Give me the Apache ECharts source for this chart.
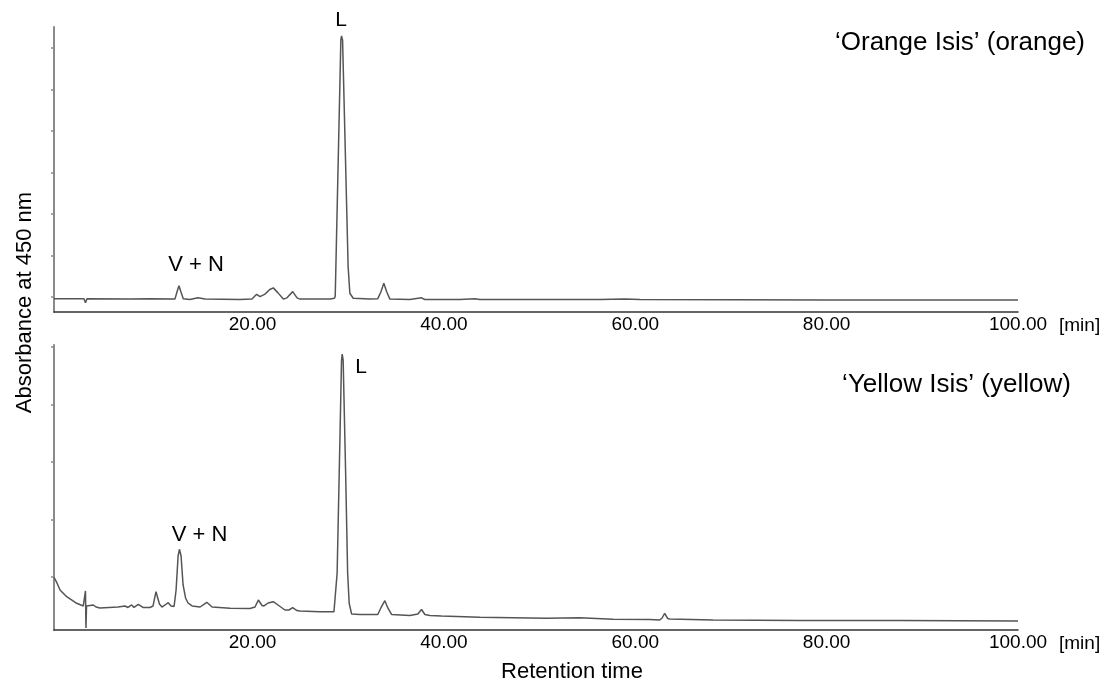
<!DOCTYPE html>
<html>
<head>
<meta charset="utf-8">
<script src="https://cdn.jsdelivr.net/npm/echarts@6.0.0/dist/echarts.min.js"></script>
<style>
html,body{margin:0;padding:0;background:#fff;}
#chart{width:1113px;height:689px;}
</style>
</head>
<body>
<div id="chart"></div>
<script>
// Retention time (min) vs absorbance (arbitrary units, 1 unit = one y tick step)
const xTickValues = [20, 40, 60, 80, 100];
const topYTicks = [0, 1, 2, 3, 4, 5, 6];
const bottomYTicks = [1, 2, 3, 4, 5];

const orangeTrace = [
  [-0.75,-0.04],[0.92,-0.04],[2.38,-0.04],[2.54,-0.14],[2.7,-0.04],[7.19,-0.05],[9.28,-0.04],
  [11.89,-0.05],[12.1,0.12],[12.31,0.27],[12.52,0.12],[12.76,-0.04],[13.46,-0.06],[14.29,-0.02],
  [15.03,-0.05],[18.68,-0.06],[19.94,-0.05],[20.43,0.065],[20.78,0.01],[21.3,0.07],[21.8,0.18],
  [22.17,0.22],[22.66,0.1],[23.22,-0.05],[23.6,-0.02],[24.2,0.13],[24.65,-0.02],[24.96,-0.05],
  [28.1,-0.05],[28.56,-0.03],[28.64,0.02],[28.71,0.73],[29.23,6.19],[29.3,6.29],[29.41,6.19],
  [29.99,0.73],[30.17,0.09],[30.52,-0.03],[32.26,-0.05],[33.09,-0.04],[33.41,0.12],[33.72,0.33],
  [34.03,0.12],[34.35,-0.05],[36.44,-0.06],[37.66,-0.02],[38.0,-0.06],[41.66,-0.06],[43.23,-0.04],
  [43.75,-0.06],[56.28,-0.06],[58.9,-0.05],[60.5,-0.06],[80,-0.07],[100,-0.07]
];

const yellowTrace = [
  [-0.75,0.995],[-0.44,0.896],[-0.12,0.774],[0.58,0.657],[1.62,0.543],[2.31,0.496],[2.49,0.496],
  [2.54,0.757],[2.59,0.113],[2.65,0.496],[2.8,0.487],[3.36,0.513],[3.64,0.478],[4.05,0.461],
  [5.94,0.478],[6.67,0.496],[6.98,0.47],[7.37,0.513],[7.61,0.47],[8.06,0.525],[8.55,0.47],
  [9.28,0.47],[9.6,0.496],[9.91,0.744],[10.27,0.531],[10.53,0.478],[10.85,0.513],[11.19,0.553],
  [11.48,0.496],[11.8,0.487],[12.01,0.774],[12.22,1.365],[12.36,1.482],[12.53,1.365],[12.74,0.861],
  [13.0,0.635],[13.26,0.548],[13.68,0.496],[14.52,0.478],[15.22,0.56],[15.77,0.478],[17.65,0.456],
  [19.74,0.452],[20.26,0.478],[20.61,0.6],[20.99,0.504],[21.2,0.496],[21.62,0.548],[22.17,0.57],
  [22.66,0.513],[23.39,0.426],[23.81,0.426],[24.19,0.466],[24.64,0.417],[24.96,0.409],[27.05,0.397],
  [28.51,0.397],[28.71,0.397],[28.84,1.064],[29.13,3.383],[29.3,4.77],[29.37,4.878],[29.47,4.77],
  [29.73,2.803],[29.94,1.064],[30.1,0.543],[30.35,0.357],[31.21,0.348],[33.09,0.348],[33.41,0.461],
  [33.83,0.588],[34.14,0.461],[34.53,0.348],[36.44,0.33],[37.28,0.357],[37.66,0.435],[38.01,0.348],
  [38.53,0.33],[39.75,0.322],[43.75,0.299],[50.72,0.282],[54.2,0.292],[57.68,0.264],[61.51,0.26],
  [62.55,0.252],[62.81,0.287],[63.07,0.369],[63.39,0.278],[63.6,0.27],[68.12,0.252],[77.18,0.243],
  [87.62,0.243],[100,0.235]
];

const FONT = '"Liberation Sans", Arial, sans-serif';

function makeX(gridIndex) {
  return {
    type: 'value', gridIndex: gridIndex, min: -0.75, max: 100,
    name: '[min]', nameLocation: 'end', nameGap: 41,
    nameTextStyle: { fontFamily: FONT, fontSize: 19, color: '#000', verticalAlign: 'top', padding: [4, 0, 0, 0] },
    axisLine: { onZero: false, lineStyle: { color: '#333', width: 1.5 } },
    axisTick: { show: false },
    splitLine: { show: false },
    axisLabel: {
      customValues: xTickValues, margin: 3,
      fontFamily: FONT, fontSize: 19, color: '#000',
      formatter: function (v) { return v.toFixed(2); }
    }
  };
}

function makeY(gridIndex, min, max, ticks) {
  return {
    type: 'value', gridIndex: gridIndex, min: min, max: max,
    axisLine: { show: true, onZero: false, lineStyle: { color: '#8a8a8a', width: 2 } },
    axisTick: { show: true, customValues: ticks, length: 3, inside: false, lineStyle: { color: '#8a8a8a', width: 1.5 } },
    axisLabel: { show: false },
    splitLine: { show: false }
  };
}

const chart = echarts.init(document.getElementById('chart'), null, { renderer: 'canvas' });
chart.setOption({
  backgroundColor: '#fff',
  animation: false,
  grid: [
    { left: 54, right: 95, top: 27, height: 285 },
    { left: 54, right: 95, top: 345, height: 285 }
  ],
  xAxis: [makeX(0), makeX(1)],
  yAxis: [makeY(0, -0.361, 6.506, topYTicks), makeY(1, 0.078, 5.035, bottomYTicks)],
  series: [
    { type: 'line', xAxisIndex: 0, yAxisIndex: 0, data: orangeTrace, showSymbol: false,
      lineStyle: { color: '#555', width: 1.5 } },
    { type: 'line', xAxisIndex: 1, yAxisIndex: 1, data: yellowTrace, showSymbol: false,
      lineStyle: { color: '#555', width: 1.5 } }
  ],
  graphic: [
    { type: 'text', x: 341, y: 20, style: { text: 'L', font: '21px ' + FONT, fill: '#000', align: 'center', verticalAlign: 'middle' } },
    { type: 'text', x: 196, y: 264.5, style: { text: 'V + N', font: '22px ' + FONT, fill: '#000', align: 'center', verticalAlign: 'middle' } },
    { type: 'text', x: 361, y: 367, style: { text: 'L', font: '21px ' + FONT, fill: '#000', align: 'center', verticalAlign: 'middle' } },
    { type: 'text', x: 199.5, y: 535, style: { text: 'V + N', font: '22px ' + FONT, fill: '#000', align: 'center', verticalAlign: 'middle' } },
    { type: 'text', x: 960, y: 43, style: { text: '\u2018Orange Isis\u2019 (orange)', font: '26px ' + FONT, fill: '#000', align: 'center', verticalAlign: 'middle' } },
    { type: 'text', x: 956.5, y: 385, style: { text: '\u2018Yellow Isis\u2019 (yellow)', font: '26px ' + FONT, fill: '#000', align: 'center', verticalAlign: 'middle' } },
    { type: 'text', x: 25, y: 302.5, rotation: Math.PI / 2, style: { text: 'Absorbance at 450 nm', font: '22px ' + FONT, fill: '#000', align: 'center', verticalAlign: 'middle' } },
    { type: 'text', x: 572, y: 672, style: { text: 'Retention time', font: '22px ' + FONT, fill: '#000', align: 'center', verticalAlign: 'middle' } }
  ]
});
</script>
</body>
</html>
